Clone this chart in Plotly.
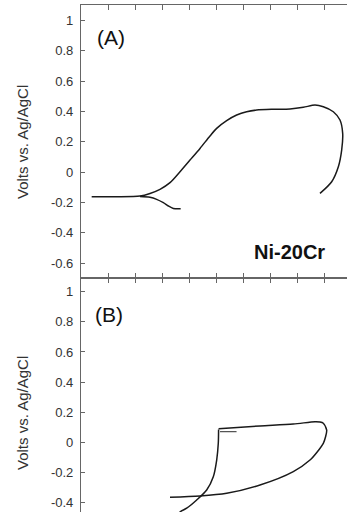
import plotly.graph_objects as go

# ---------------- data (log10 current density, potential V vs Ag/AgCl) -------------
# Panel A: Ni-20Cr polarization curve
a_cat_logi = [-7.823, -7.454, -7.208, -6.962, -6.777, -6.593, -6.322]
a_cat_volt = [-0.162, -0.167, -0.180, -0.202, -0.224, -0.240, -0.242]

a_logi = [-9.606, -8.684, -7.823, -7.454, -7.085, -6.716, -6.347, -5.978, -5.609,
          -5.240, -4.994, -4.625, -4.256, -3.887, -3.518, -2.903, -2.288, -1.796,
          -1.365, -1.058, -0.689, -0.443, -0.344, -0.381, -0.504, -0.750, -1.181]
a_volt = [-0.163, -0.163, -0.158, -0.141, -0.114, -0.070, 0.002, 0.079, 0.156,
          0.238, 0.288, 0.339, 0.376, 0.398, 0.409, 0.414, 0.416, 0.427, 0.442,
          0.431, 0.398, 0.343, 0.255, 0.145, 0.035, -0.064, -0.141]

# Panel B: cyclic polarization curve
b_up_logi = [-6.9, -6.642, -6.347, -6.100, -5.731, -5.362, -5.118, -4.993, -4.934,
             -4.923]
b_up_volt = [-0.647, -0.548, -0.462, -0.437, -0.382, -0.316, -0.228, -0.117,
             -0.006, 0.085]
b_loop_logi = [-4.923, -3.395, -2.166, -1.365, -1.180, -1.059, -0.934, -0.978,
               -1.059, -1.292, -1.550, -2.166, -3.395, -4.624, -5.609, -6.716]
b_loop_volt = [0.091, 0.109, 0.122, 0.137, 0.135, 0.127, 0.082, 0.036, -0.006,
               -0.065, -0.117, -0.194, -0.283, -0.338, -0.356, -0.364]
b_step_logi = [-4.87, -4.26]
b_step_volt = [0.071, 0.071]

a_ticks = [-0.6, -0.4, -0.2, 0, 0.2, 0.4, 0.6, 0.8, 1]
a_ticktext = ["-0.6", "-0.4", "-0.2", "0", "0.2", "0.4", "0.6", "0.8", "1"]
b_ticks = [-0.4, -0.2, 0, 0.2, 0.4, 0.6, 0.8, 1]
b_ticktext = ["-0.4", "-0.2", "0", "0.2", "0.4", "0.6", "0.8", "1"]

y_title = "Volts vs. Ag/AgCl"
label_a = "(A)"
label_b = "(B)"
alloy = "Ni-20Cr"

# ---------------- layout helpers --------------------------------------------------
W, H = 347, 512
ML, MT = 81, 5
PW, PH = W - ML, H - MT


def px(x):
    return (x - ML) / PW


def py(y):
    return 1 - (y - MT) / PH


split = py(277.7)

FONT = "Liberation Sans, Arial, sans-serif"
AX = "#666666"
LINE = "#1a1a1a"

fig = go.Figure()


def add_line(xs, ys, xa, ya, color=LINE, width=1.5, shape="spline"):
    fig.add_trace(go.Scatter(x=xs, y=ys, mode="lines", xaxis=xa, yaxis=ya,
                             line=dict(color=color, width=width, shape=shape,
                                       smoothing=0.8),
                             showlegend=False, hoverinfo="skip"))


add_line(a_cat_logi, a_cat_volt, "x", "y")
add_line(a_logi, a_volt, "x", "y")
add_line(b_up_logi, b_up_volt, "x2", "y2")
add_line(b_loop_logi, b_loop_volt, "x2", "y2")
add_line(b_step_logi, b_step_volt, "x2", "y2", color="#555555", width=1.2,
         shape="linear")

xr = [-10, -10 + PW / 27.1]
common_x = dict(range=xr, dtick=1, tick0=-10, showticklabels=False, showgrid=False,
                zeroline=False, showline=True, linecolor=AX, linewidth=1.2,
                ticks="inside", ticklen=5, tickcolor=AX, tickwidth=1)
common_y = dict(showgrid=False, zeroline=False, showline=True, linecolor=AX,
                linewidth=1.2, ticks="inside", ticklen=4, tickcolor=AX, tickwidth=1,
                tickfont=dict(family=FONT, size=13, color="#333333"),
                ticklabelstandoff=4)

fig.update_layout(
    width=W, height=H,
    margin=dict(l=ML, r=0, t=MT, b=0, autoexpand=False),
    paper_bgcolor="white", plot_bgcolor="white",
    xaxis=dict(domain=[0, 1], anchor="y", mirror="ticks", **common_x),
    yaxis=dict(domain=[split, 1], anchor="x", range=[-0.697, 1.102],
               tickvals=a_ticks, ticktext=a_ticktext, **common_y),
    xaxis2=dict(domain=[0, 1], anchor="y2", side="top", **common_x),
    yaxis2=dict(domain=[0, split], anchor="x2", range=[-0.462, 1.093],
                tickvals=b_ticks, ticktext=b_ticktext, **common_y),
    annotations=[
        dict(text=y_title, xref="paper", yref="paper", x=px(22), y=py(142),
             textangle=-90, showarrow=False, xanchor="center", yanchor="middle",
             font=dict(family=FONT, size=15, color="#333333")),
        dict(text=y_title, xref="paper", yref="paper", x=px(22), y=py(413),
             textangle=-90, showarrow=False, xanchor="center", yanchor="middle",
             font=dict(family=FONT, size=15, color="#333333")),
        dict(text=label_a, xref="paper", yref="paper", x=px(111), y=py(37.5),
             showarrow=False, xanchor="center", yanchor="middle",
             font=dict(family=FONT, size=21, color="#111111")),
        dict(text=label_b, xref="paper", yref="paper", x=px(109), y=py(314),
             showarrow=False, xanchor="center", yanchor="middle",
             font=dict(family=FONT, size=21, color="#111111")),
        dict(text="<b>" + alloy + "</b>", xref="paper", yref="paper", x=px(289.7),
             y=py(251.7), showarrow=False, xanchor="center", yanchor="middle",
             font=dict(family=FONT, size=20, color="#111111")),
    ],
)

fig.write_html("out.html",
               config={"displayModeBar": False},
               post_script="document.body.style.margin='0';"
                           "document.body.style.overflow='hidden';")
